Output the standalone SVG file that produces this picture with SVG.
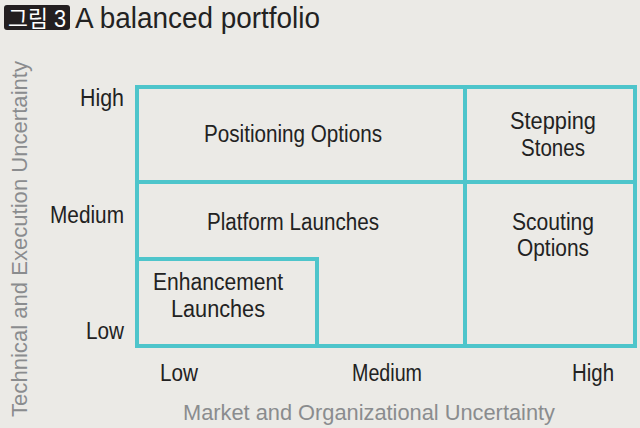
<svg xmlns="http://www.w3.org/2000/svg" width="640" height="428" viewBox="0 0 640 428">
<style>
text{font-family:"Liberation Sans","Noto Sans CJK KR",sans-serif;fill:#222}
.l{font-size:23px}
.ax{font-size:22px;fill:#8a8c8e}
.b{fill:none;stroke:#4ec5cb;stroke-width:4}
</style>
<rect width="640" height="428" fill="#ebeae6"/>
<g id="title">
<rect x="4" y="5" width="66" height="25" rx="3" fill="#231f20"/>
<text x="8" y="27" font-size="23" style="fill:#fff" textLength="58" lengthAdjust="spacingAndGlyphs">그림 3</text>
<text x="75" y="28" font-size="30" textLength="245" lengthAdjust="spacingAndGlyphs">A balanced portfolio</text>
</g>
<g id="connectors">
<rect class="b" x="137" y="87" width="498" height="259"/>
<line class="b" x1="465" y1="87" x2="465" y2="346"/>
<line class="b" x1="137" y1="182" x2="635" y2="182"/>
<rect class="b" x="137" y="259" width="180" height="87"/>
</g>
<g id="positioning"><text class="l" x="293" y="142" text-anchor="middle" textLength="178" lengthAdjust="spacingAndGlyphs">Positioning Options</text></g>
<g id="stepping"><text class="l" x="553" y="129" text-anchor="middle" textLength="86" lengthAdjust="spacingAndGlyphs">Stepping</text><text class="l" x="553" y="156" text-anchor="middle" textLength="64" lengthAdjust="spacingAndGlyphs">Stones</text></g>
<g id="platform"><text class="l" x="293" y="230" text-anchor="middle" textLength="172" lengthAdjust="spacingAndGlyphs">Platform Launches</text></g>
<g id="scouting"><text class="l" x="553" y="230" text-anchor="middle" textLength="82" lengthAdjust="spacingAndGlyphs">Scouting</text><text class="l" x="553" y="256" text-anchor="middle" textLength="72" lengthAdjust="spacingAndGlyphs">Options</text></g>
<g id="enhancement"><text class="l" x="218" y="290" text-anchor="middle" textLength="130" lengthAdjust="spacingAndGlyphs">Enhancement</text><text class="l" x="218" y="317" text-anchor="middle" textLength="94" lengthAdjust="spacingAndGlyphs">Launches</text></g>
<g id="yticks">
<text class="l" x="124" y="106" text-anchor="end" textLength="44" lengthAdjust="spacingAndGlyphs">High</text>
<text class="l" x="124" y="223" text-anchor="end" textLength="74" lengthAdjust="spacingAndGlyphs">Medium</text>
<text class="l" x="124" y="339" text-anchor="end" textLength="38" lengthAdjust="spacingAndGlyphs">Low</text>
</g>
<g id="xticks">
<text class="l" x="179" y="381" text-anchor="middle" textLength="38" lengthAdjust="spacingAndGlyphs">Low</text>
<text class="l" x="387" y="381" text-anchor="middle" textLength="70" lengthAdjust="spacingAndGlyphs">Medium</text>
<text class="l" x="593" y="381" text-anchor="middle" textLength="42" lengthAdjust="spacingAndGlyphs">High</text>
</g>
<text class="ax" x="369" y="420" text-anchor="middle" textLength="372" lengthAdjust="spacingAndGlyphs">Market and Organizational Uncertainty</text>
<text class="ax" transform="translate(27,239) rotate(-90)" text-anchor="middle" textLength="356" lengthAdjust="spacingAndGlyphs">Technical and Execution Uncertainty</text>
</svg>
